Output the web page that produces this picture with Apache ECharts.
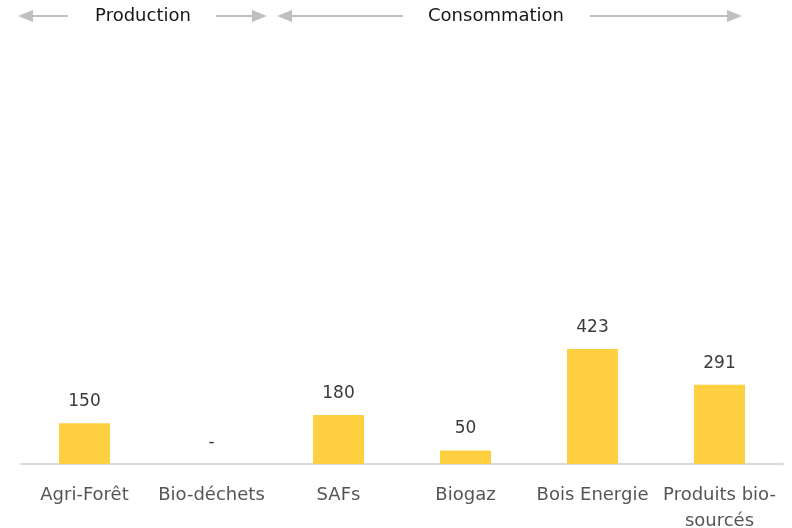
<!DOCTYPE html>
<html>
<head>
<meta charset="utf-8">
<script src="https://cdn.jsdelivr.net/npm/echarts@6/dist/echarts.min.js"></script>
<style>
  html, body { margin: 0; padding: 0; background: #ffffff; overflow: hidden; }
  #chart { width: 792px; height: 528px; }
</style>
</head>
<body>
<div id="chart"></div>
<script>
// Bioresource volumes by sector
const categories = ['Agri-Forêt', 'Bio-déchets', 'SAFs', 'Biogaz', 'Bois Energie', 'Produits bio-\nsourcés'];
const values = [150, 0, 180, 50, 423, 291];
const groupLabels = ['Production', 'Consommation'];

const FONT = '"DejaVu Sans"';
const ARROW = '#bfbfbf';

// Horizontal arrow: shaft from x1 to x2, head at the "tip" end
function arrow(x1, x2, y, headAtStart) {
  const tip = headAtStart ? x1 : x2;
  const dir = headAtStart ? 1 : -1;
  const headLen = 15, headHalf = 6;
  return [
    { type: 'line', shape: { x1: headAtStart ? x1 + headLen - 2 : x1, y1: y, x2: headAtStart ? x2 : x2 - headLen + 2, y2: y },
      style: { stroke: ARROW, lineWidth: 2 } },
    { type: 'polygon', shape: { points: [[tip, y], [tip + dir * headLen, y - headHalf], [tip + dir * headLen, y + headHalf]] },
      style: { fill: ARROW } }
  ];
}

const chart = echarts.init(document.getElementById('chart'), null, { renderer: 'canvas' });
chart.setOption({
  animation: false,
  backgroundColor: '#ffffff',
  textStyle: { fontFamily: FONT },
  grid: { left: 21, right: 9, top: 192, bottom: 64, containLabel: false, outerBoundsMode: 'none' },
  xAxis: {
    type: 'category',
    data: categories,
    axisLine: { show: true, lineStyle: { color: '#d9d9d9', width: 2 } },
    axisTick: { show: false },
    axisLabel: { color: '#555555', fontSize: 18, fontFamily: FONT, margin: 18, lineHeight: 26, interval: 0 }
  },
  yAxis: {
    type: 'value', min: 0, max: 1000,
    show: false, splitLine: { show: false }
  },
  series: [{
    type: 'bar',
    data: values,
    barWidth: 51,
    itemStyle: { color: '#fdcf41' },
    label: {
      show: true, position: 'top', distance: 13,
      color: '#3a3a3a', fontSize: 17, fontFamily: FONT,
      formatter: p => (p.value === 0 ? '-' : String(p.value))
    }
  }],
  graphic: [
    ...arrow(18, 68, 16, true),
    { type: 'text', x: 143, y: 16, style: { text: groupLabels[0], fill: '#161616', font: '18px ' + FONT, textAlign: 'center', textVerticalAlign: 'middle' } },
    ...arrow(216, 267, 16, false),
    ...arrow(277, 403, 16, true),
    { type: 'text', x: 496, y: 16, style: { text: groupLabels[1], fill: '#161616', font: '18px ' + FONT, textAlign: 'center', textVerticalAlign: 'middle' } },
    ...arrow(590, 742, 16, false)
  ]
});
</script>
</body>
</html>
